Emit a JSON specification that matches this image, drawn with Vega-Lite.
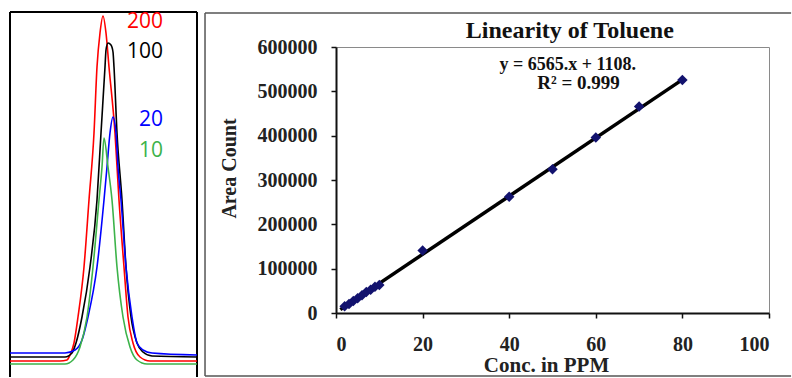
{
  "$schema": "https://vega.github.io/schema/vega-lite/v6.json",
  "padding": {"left": 6, "top": 11, "right": 0, "bottom": 0},
  "background": "white",
  "spacing": 2,
  "config": {"view": {"stroke": null}, "font": "Liberation Serif"},
  "datasets": {
    "peaks": [
      {"conc":"200","t":0,"s":17},{"conc":"200","t":50,"s":17},{"conc":"200","t":57,"s":18},{"conc":"200","t":60,"s":23},{"conc":"200","t":64,"s":35},{"conc":"200","t":68,"s":61},{"conc":"200","t":74,"s":111},{"conc":"200","t":79,"s":178},{"conc":"200","t":84,"s":245},{"conc":"200","t":87,"s":311},{"conc":"200","t":90,"s":345},{"conc":"200","t":93,"s":362},{"conc":"200","t":96,"s":345},{"conc":"200","t":99,"s":311},{"conc":"200","t":105,"s":245},{"conc":"200","t":109,"s":178},{"conc":"200","t":114,"s":111},{"conc":"200","t":118,"s":61},{"conc":"200","t":123,"s":35},{"conc":"200","t":130,"s":21},{"conc":"200","t":140,"s":17},{"conc":"200","t":187,"s":17},
      {"conc":"100","t":0,"s":21},{"conc":"100","t":55,"s":21},{"conc":"100","t":62,"s":25},{"conc":"100","t":66,"s":35},{"conc":"100","t":72,"s":61},{"conc":"100","t":80,"s":111},{"conc":"100","t":87,"s":178},{"conc":"100","t":91,"s":245},{"conc":"100","t":95,"s":311},{"conc":"100","t":96,"s":328},{"conc":"100","t":98,"s":335},{"conc":"100","t":101,"s":333},{"conc":"100","t":103,"s":326},{"conc":"100","t":104,"s":311},{"conc":"100","t":107,"s":245},{"conc":"100","t":112,"s":178},{"conc":"100","t":116,"s":111},{"conc":"100","t":121,"s":61},{"conc":"100","t":127,"s":35},{"conc":"100","t":133,"s":26},{"conc":"100","t":142,"s":22},{"conc":"100","t":187,"s":21},
      {"conc":"20","t":0,"s":25},{"conc":"20","t":55,"s":25},{"conc":"20","t":65,"s":28},{"conc":"20","t":72,"s":38},{"conc":"20","t":78,"s":61},{"conc":"20","t":87,"s":111},{"conc":"20","t":94,"s":178},{"conc":"20","t":97,"s":211},{"conc":"20","t":100,"s":245},{"conc":"20","t":103,"s":261},{"conc":"20","t":106,"s":245},{"conc":"20","t":108,"s":211},{"conc":"20","t":111,"s":178},{"conc":"20","t":116,"s":111},{"conc":"20","t":122,"s":61},{"conc":"20","t":127,"s":35},{"conc":"20","t":133,"s":28},{"conc":"20","t":142,"s":25},{"conc":"20","t":187,"s":23},
      {"conc":"10","t":0,"s":14},{"conc":"10","t":55,"s":14},{"conc":"10","t":63,"s":18},{"conc":"10","t":70,"s":31},{"conc":"10","t":77,"s":61},{"conc":"10","t":83,"s":111},{"conc":"10","t":89,"s":178},{"conc":"10","t":92,"s":211},{"conc":"10","t":94,"s":240},{"conc":"10","t":98,"s":211},{"conc":"10","t":102,"s":178},{"conc":"10","t":107,"s":111},{"conc":"10","t":113,"s":61},{"conc":"10","t":120,"s":31},{"conc":"10","t":127,"s":18},{"conc":"10","t":137,"s":14},{"conc":"10","t":187,"s":14}
    ],
    "calib": [
      {"ppm":2,"area":15000},{"ppm":3,"area":20500},{"ppm":4,"area":27000},{"ppm":5,"area":33500},{"ppm":6,"area":40000},{"ppm":7,"area":47500},{"ppm":8,"area":52500},{"ppm":9,"area":59000},{"ppm":10,"area":63000},
      {"ppm":20,"area":141000},{"ppm":40,"area":262000},{"ppm":50,"area":324000},{"ppm":60,"area":396000},{"ppm":70,"area":466000},{"ppm":80,"area":525500}
    ],
    "fit": [{"ppm":1,"area":7673},{"ppm":80,"area":526308}]
  },
  "hconcat": [
    {
      "width": 187,
      "height": 266,
      "view": {"stroke": null},
      "layer": [
        {
          "data": {"values": [{}]},
          "mark": {"type": "rule", "color": "black", "strokeWidth": 2},
          "encoding": {
            "x": {"datum": 0, "type": "quantitative", "scale": {"domain": [0, 187], "nice": false, "zero": false}, "axis": null},
            "y": {"datum": 1, "type": "quantitative", "scale": {"domain": [65, 331], "nice": false, "zero": false}, "axis": null},
            "y2": {"datum": 366}
          }
        },
        {
          "data": {"values": [{}]},
          "mark": {"type": "rule", "color": "black", "strokeWidth": 2},
          "encoding": {
            "x": {"datum": 187, "type": "quantitative"},
            "y": {"datum": 1, "type": "quantitative"},
            "y2": {"datum": 366}
          }
        },
        {
          "data": {"values": [{}]},
          "mark": {"type": "rule", "color": "black", "strokeWidth": 2},
          "encoding": {
            "x": {"datum": 0, "type": "quantitative"},
            "x2": {"datum": 187},
            "y": {"datum": 366, "type": "quantitative"}
          }
        },
        {
          "data": {"name": "peaks"},
          "mark": {"type": "line", "interpolate": "monotone", "strokeWidth": 1.6},
          "encoding": {
            "x": {"field": "t", "type": "quantitative"},
            "y": {"field": "s", "type": "quantitative"},
            "color": {"field": "conc", "type": "nominal", "scale": {"domain": ["10", "100", "200", "20"], "range": ["#3cb34a", "#000000", "#ff0000", "#0000ff"]}, "legend": null}
          }
        },
        {
          "data": {"values": [{}]},
          "mark": {"type": "text", "text": "200", "font": "Open Sans", "fontSize": 21, "color": "#ff0000", "align": "right", "baseline": "middle"},
          "encoding": {"x": {"datum": 153, "type": "quantitative"}, "y": {"datum": 356, "type": "quantitative"}}
        },
        {
          "data": {"values": [{}]},
          "mark": {"type": "text", "text": "100", "font": "Open Sans", "fontSize": 21, "color": "#000000", "align": "right", "baseline": "middle"},
          "encoding": {"x": {"datum": 153, "type": "quantitative"}, "y": {"datum": 326, "type": "quantitative"}}
        },
        {
          "data": {"values": [{}]},
          "mark": {"type": "text", "text": "20", "font": "Open Sans", "fontSize": 21, "color": "#0000ff", "align": "right", "baseline": "middle"},
          "encoding": {"x": {"datum": 153, "type": "quantitative"}, "y": {"datum": 258, "type": "quantitative"}}
        },
        {
          "data": {"values": [{}]},
          "mark": {"type": "text", "text": "10", "font": "Open Sans", "fontSize": 21, "color": "#3cb34a", "align": "right", "baseline": "middle"},
          "encoding": {"x": {"datum": 153, "type": "quantitative"}, "y": {"datum": 227, "type": "quantitative"}}
        }
      ]
    },
    {
      "width": 433,
      "height": 266,
      "view": {"stroke": "#8a8a8a", "strokeWidth": 1},
      "layer": [
        {
          "data": {"name": "fit"},
          "mark": {"type": "line", "color": "black", "strokeWidth": 3.5},
          "encoding": {
            "x": {
              "field": "ppm", "type": "quantitative",
              "scale": {"domain": [0, 100], "nice": false},
              "axis": {
                "title": "Conc. in PPM", "values": [0, 20, 40, 60, 80, 100], "grid": false,
                "domainColor": "#111111", "domainWidth": 2, "tickColor": "#111111", "tickWidth": 1.5, "tickSize": 5,
                "labelFont": "Liberation Serif", "labelFontSize": 20, "labelFontWeight": "bold", "labelColor": "#222222", "labelPadding": 16,
                "titleFont": "Liberation Serif", "titleFontSize": 21, "titleFontWeight": "bold", "titleColor": "#222222", "titlePadding": 0, "titleX": 210
              }
            },
            "y": {
              "field": "area", "type": "quantitative",
              "scale": {"domain": [0, 600000], "nice": false},
              "axis": {
                "title": "Area Count", "values": [0, 100000, 200000, 300000, 400000, 500000, 600000], "format": "d", "grid": false,
                "domainColor": "#111111", "domainWidth": 2, "tickColor": "#111111", "tickWidth": 1.5, "tickSize": 5,
                "labelFont": "Liberation Serif", "labelFontSize": 20, "labelFontWeight": "bold", "labelColor": "#222222", "labelPadding": 14,
                "titleFont": "Liberation Serif", "titleFontSize": 20, "titleFontWeight": "bold", "titleColor": "#222222", "titlePadding": 18, "titleY": 121
              }
            }
          }
        },
        {
          "data": {"name": "calib"},
          "mark": {"type": "point", "shape": "diamond", "filled": true, "size": 110, "color": "#12126e", "opacity": 1},
          "encoding": {
            "x": {"field": "ppm", "type": "quantitative"},
            "y": {"field": "area", "type": "quantitative"}
          }
        },
        {
          "data": {"values": [{}]},
          "mark": {"type": "text", "text": "Linearity of Toluene", "font": "Liberation Serif", "fontSize": 24, "fontWeight": "bold", "color": "#111111", "align": "center", "baseline": "middle", "clip": false},
          "encoding": {"x": {"datum": 54, "type": "quantitative"}, "y": {"datum": 636000, "type": "quantitative"}}
        },
        {
          "data": {"values": [{}]},
          "mark": {"type": "text", "text": "y = 6565.x + 1108.", "font": "Liberation Serif", "fontSize": 18, "fontWeight": "bold", "color": "#111111", "align": "center", "baseline": "middle"},
          "encoding": {"x": {"datum": 53.5, "type": "quantitative"}, "y": {"datum": 560000, "type": "quantitative"}}
        },
        {
          "data": {"values": [{}]},
          "mark": {"type": "text", "text": "R² = 0.999", "font": "Liberation Serif", "fontSize": 19, "fontWeight": "bold", "color": "#111111", "align": "center", "baseline": "middle"},
          "encoding": {"x": {"datum": 56, "type": "quantitative"}, "y": {"datum": 519000, "type": "quantitative"}}
        },
        {
          "data": {"values": [{}]},
          "mark": {"type": "rule", "color": "#555555", "strokeWidth": 1.5, "clip": false},
          "encoding": {"x": {"datum": -30.25, "type": "quantitative"}, "x2": {"datum": 105.1}, "y": {"datum": 676700, "type": "quantitative"}}
        },
        {
          "data": {"values": [{}]},
          "mark": {"type": "rule", "color": "#555555", "strokeWidth": 1.5, "clip": false},
          "encoding": {"x": {"datum": -30.25, "type": "quantitative"}, "x2": {"datum": 105.1}, "y": {"datum": -142100, "type": "quantitative"}}
        },
        {
          "data": {"values": [{}]},
          "mark": {"type": "rule", "color": "#555555", "strokeWidth": 1.5, "clip": false},
          "encoding": {"x": {"datum": -30.25, "type": "quantitative"}, "y": {"datum": -142100, "type": "quantitative"}, "y2": {"datum": 676700}}
        }
      ]
    }
  ]
}
